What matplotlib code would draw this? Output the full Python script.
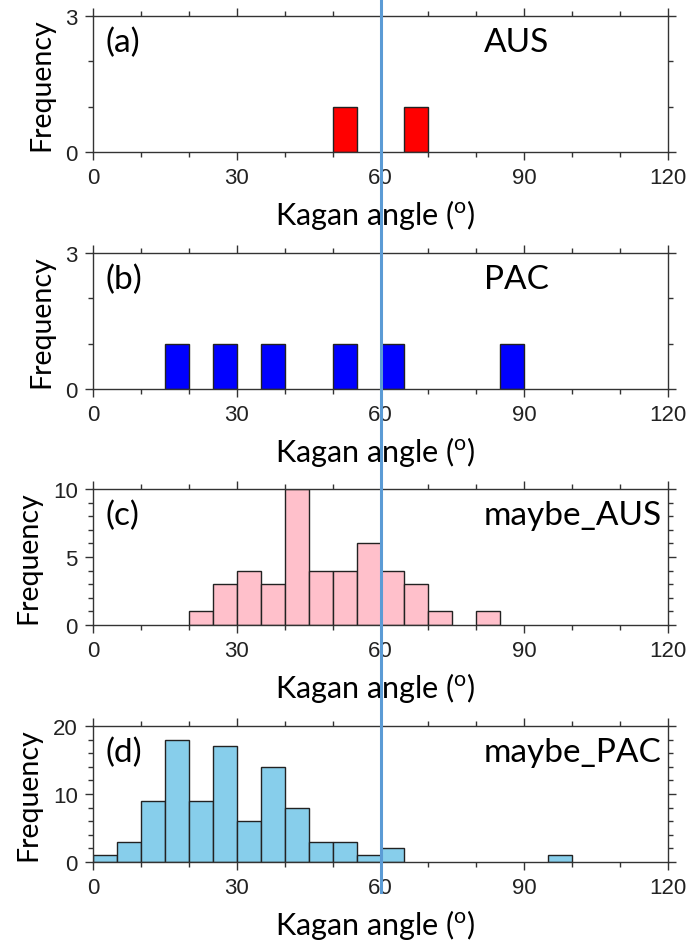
import matplotlib
matplotlib.use("Agg")
import matplotlib.pyplot as plt
from matplotlib import font_manager
from matplotlib.lines import Line2D
from matplotlib.ticker import MultipleLocator
from matplotlib.transforms import blended_transform_factory

# histogram counts per 5 degree bin (left edge of each non-empty bin)
aus_bins = [50, 65]
aus_counts = [1, 1]

pac_bins = [15, 25, 35, 50, 60, 85]
pac_counts = [1, 1, 1, 1, 1, 1]

maybe_aus_bins = [20, 25, 30, 35, 40, 45, 50, 55, 60, 65, 70, 80]
maybe_aus_counts = [1, 3, 4, 3, 10, 4, 4, 6, 4, 3, 1, 1]

maybe_pac_bins = [0, 5, 10, 15, 20, 25, 30, 35, 40, 45, 50, 55, 60, 95]
maybe_pac_counts = [1, 3, 9, 18, 9, 17, 6, 14, 8, 3, 3, 1, 2, 1]

panel_tags = ["(a)", "(b)", "(c)", "(d)"]
panel_names = ["AUS", "PAC", "maybe_AUS", "maybe_PAC"]
bar_colors = ["#ff0000", "#0000ff", "#ffc0cb", "#87ceeb"]
y_max = [3, 3, 10, 20]
y_major = [3, 3, 5, 10]
y_minor = [1, 1, 1, 2]

bin_width = 5
cut_angle = 60
x_ticks = [0, 30, 60, 90, 120]

# fonts: narrow sans for tick numbers, humanist sans for labels
installed = {f.name for f in font_manager.fontManager.ttflist}
tick_font = "Liberation Sans Narrow" if "Liberation Sans Narrow" in installed else "Liberation Sans"
label_font = ["Lato", "DejaVu Sans"]
plt.rcParams["mathtext.fontset"] = "custom"
plt.rcParams["mathtext.rm"] = "Lato"

W, H = 691, 945
left_px, right_px = 93, 668
panel_px = [(17, 153), (254, 390), (490, 626), (727, 863)]

fig = plt.figure(figsize=(W / 100, H / 100), dpi=100)

all_bins = [aus_bins, pac_bins, maybe_aus_bins, maybe_pac_bins]
all_counts = [aus_counts, pac_counts, maybe_aus_counts, maybe_pac_counts]

axes = []
for i in range(4):
    top, bottom = panel_px[i]
    ax = fig.add_axes([left_px / W, 1 - bottom / H,
                       (right_px - left_px) / W, (bottom - top) / H])
    axes.append(ax)

    ax.bar(all_bins[i], all_counts[i], width=bin_width, align="edge",
           color=bar_colors[i], edgecolor="#222222", linewidth=1.0, zorder=2)

    ax.set_xlim(0, 120)
    ax.set_ylim(0, y_max[i])
    ax.set_xticks(x_ticks)
    ax.xaxis.set_minor_locator(MultipleLocator(10))
    ax.yaxis.set_major_locator(MultipleLocator(y_major[i]))
    ax.yaxis.set_minor_locator(MultipleLocator(y_minor[i]))

    for side in ax.spines.values():
        side.set_linewidth(1.0)
        side.set_color("#333333")

    ax.tick_params(which="both", direction="out", top=True, right=True,
                   color="#333333", width=1.0)
    ax.tick_params(which="major", length=6, labelsize=16, labelcolor="#222222")
    ax.tick_params(which="minor", length=3.5)
    ax.tick_params(axis="x", which="major", pad=5)
    ax.tick_params(axis="y", which="major", pad=5)
    for lab in ax.get_xticklabels() + ax.get_yticklabels():
        lab.set_fontfamily(tick_font)

    ax.set_xlabel("Kagan angle ($\\mathregular{^o}$)", fontsize=22,
                  family=label_font)
    ax.set_ylabel("Frequency", fontsize=20.5, family=label_font, labelpad=8)
    ax.xaxis.set_label_coords(0.49, -0.33)

    ax.text(0.022, 0.81, panel_tags[i], transform=ax.transAxes,
            fontsize=24, family=label_font, ha="left", va="center")
    ax.text(0.68, 0.81, panel_names[i], transform=ax.transAxes,
            fontsize=24, family=label_font, ha="left", va="center")

# threshold line running down through all four panels
trans = blended_transform_factory(axes[-1].transData, fig.transFigure)
fig.add_artist(Line2D([cut_angle, cut_angle], [1.0, 1 - 893 / H],
                      transform=trans, color="#5b9bd5", linewidth=2.2,
                      zorder=10))

fig.savefig("out.png", dpi=100)
